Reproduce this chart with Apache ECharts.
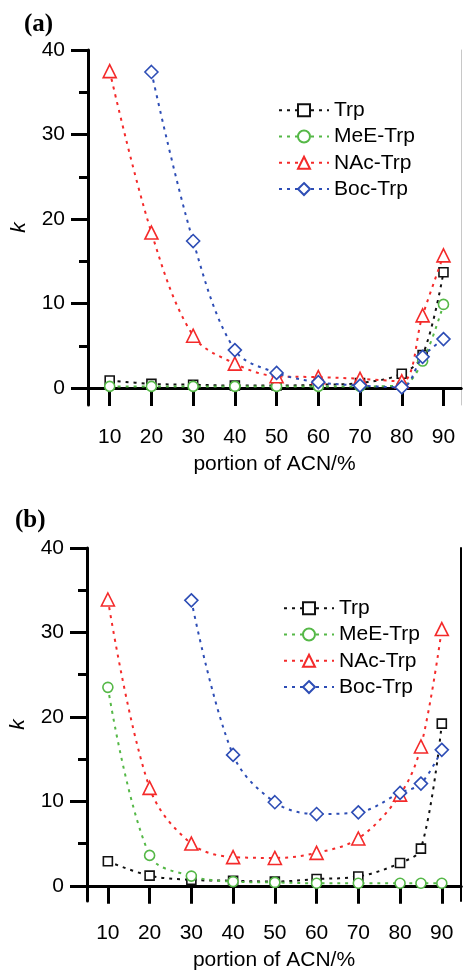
<!DOCTYPE html>
<html>
<head>
<meta charset="utf-8">
<script src="https://cdn.jsdelivr.net/npm/echarts@6/dist/echarts.min.js"></script>
<style>html,body{margin:0;padding:0;background:#fff;}#c{width:463px;height:972px;}</style>
</head>
<body>
<div id="c"></div>
<script>
// ---- data ----
const xs = [10, 20, 30, 40, 50, 60, 70, 80, 85, 90];
const xTicks = [10, 20, 30, 40, 50, 60, 70, 80, 90];
const yTicks = [0, 10, 20, 30, 40];
const yMinorTicks = [5, 15, 25, 35];
const seriesNames = ['Trp', 'MeE-Trp', 'NAc-Trp', 'Boc-Trp'];

// panel (a)
const trpA = [0.9, 0.5, 0.4, 0.3, 0.3, 0.4, 0.6, 1.7, 3.9, 13.7];
const meeA = [0.2, 0.2, 0.2, 0.2, 0.2, 0.2, 0.2, 0.3, 3.2, 9.9];
const nacA = [37.5, 18.4, 6.2, 2.9, 1.4, 1.3, 1.1, 0.8, 8.6, 15.7];
const bocA = [null, 37.4, 17.4, 4.5, 1.8, 0.7, 0.3, 0.1, 3.7, 5.8];

// panel (b)
const trpB = [2.9, 1.2, 0.7, 0.6, 0.5, 0.8, 1.1, 2.7, 4.4, 19.2];
const meeB = [23.5, 3.6, 1.15, 0.5, 0.4, 0.3, 0.3, 0.3, 0.3, 0.3];
const nacB = [33.9, 11.6, 5.0, 3.4, 3.3, 3.9, 5.6, 10.8, 16.5, 30.4];
const bocB = [null, null, 33.8, 15.5, 9.9, 8.5, 8.7, 11.0, 12.1, 16.1];

// ---- styles ----
const colors = ['#111111', '#55b847', '#f42a2a', '#2d4db5'];
const symbols = ['rect', 'circle', 'triangle', 'diamond'];
const symSizes = [9, 10, 13, 13];
const FONT = "'Liberation Sans', Arial, sans-serif";
const FS = 21;

function mkSeries(arr, idx, gi) {
  return {
    type: 'line',
    name: seriesNames[idx],
    xAxisIndex: gi * 2,
    yAxisIndex: gi * 3,
    data: xs.map((x, i) => [x, arr[i] === null ? '-' : arr[i]]),
    smooth: 0.35,
    symbol: symbols[idx],
    symbolSize: symSizes[idx],
    showSymbol: true,
    connectNulls: false,
    itemStyle: { color: '#ffffff', borderColor: colors[idx], borderWidth: 1.6 },
    lineStyle: { color: colors[idx], width: 2, type: [3, 5] },
    emphasis: { disabled: true },
    z: 3 + idx
  };
}

const grids = [
  { left: 88, top: 50, right: 2, height: 355 },
  { left: 86, top: 548, right: 2, height: 353 }
];
const xRanges = [[4.8, 94.2], [5.0, 94.6]];
const yRanges = [[-2, 40], [-1.8, 40]];
const rightLine = [{ color: '#c8c8c8', width: 1 }, { color: '#000', width: 2 }];

const xAxes = [], yAxes = [];
grids.forEach((g, gi) => {
  xAxes.push({
    type: 'value', gridIndex: gi, position: 'bottom',
    min: xRanges[gi][0], max: xRanges[gi][1],
    axisLine: { show: true, lineStyle: { color: '#000', width: 3 } },
    axisTick: { show: true, customValues: xTicks, length: 18, inside: false, lineStyle: { color: '#000', width: 3 } },
    axisLabel: { show: true, customValues: xTicks, margin: 22, fontSize: FS, color: '#000', fontFamily: FONT },
    splitLine: { show: false },
    name: 'portion of ACN/%', nameLocation: 'middle', nameGap: 49,
    nameTextStyle: { fontSize: FS, color: '#000', fontFamily: FONT }
  });
  xAxes.push({
    type: 'value', gridIndex: gi, position: 'top',
    min: xRanges[gi][0], max: xRanges[gi][1],
    axisLine: { show: true, lineStyle: { color: '#000', width: 3 } },
    axisTick: { show: false }, axisLabel: { show: false }, splitLine: { show: false }
  });
  yAxes.push({
    type: 'value', gridIndex: gi, position: 'left',
    min: yRanges[gi][0], max: yRanges[gi][1],
    axisLine: { show: true, lineStyle: { color: '#000', width: 3 } },
    axisTick: { show: true, customValues: yTicks, length: 17, lineStyle: { color: '#000', width: 3 } },
    axisLabel: { show: true, customValues: yTicks, margin: 23, fontSize: FS, color: '#000', fontFamily: FONT },
    splitLine: { show: false },
    name: 'k', nameLocation: 'middle', nameGap: 58, nameRotate: 90,
    nameTextStyle: { fontSize: FS, fontStyle: 'italic', color: '#000', fontFamily: FONT }
  });
  yAxes.push({
    type: 'value', gridIndex: gi, position: 'left',
    min: yRanges[gi][0], max: yRanges[gi][1],
    axisLine: { show: false },
    axisTick: { show: true, customValues: yMinorTicks, length: 9, lineStyle: { color: '#000', width: 3 } },
    axisLabel: { show: false }, splitLine: { show: false }
  });
  yAxes.push({
    type: 'value', gridIndex: gi, position: 'right',
    min: yRanges[gi][0], max: yRanges[gi][1],
    axisLine: { show: true, lineStyle: rightLine[gi] },
    axisTick: { show: false }, axisLabel: { show: false }, splitLine: { show: false }
  });
});

const series = [
  mkSeries(trpA, 0, 0), mkSeries(meeA, 1, 0), mkSeries(nacA, 2, 0), mkSeries(bocA, 3, 0),
  mkSeries(trpB, 0, 1), mkSeries(meeB, 1, 1), mkSeries(nacB, 2, 1), mkSeries(bocB, 3, 1)
];

function mkLegend(left, top) {
  return {
    orient: 'vertical', left: left, top: top, padding: 0,
    itemWidth: 50, itemHeight: 15, itemGap: 0,
    selectedMode: false,
    data: seriesNames,
    textStyle: { fontSize: FS, lineHeight: 26.3, color: '#000', fontFamily: FONT, padding: [0, 0, 0, 0] }
  };
}

const option = {
  animation: false,
  backgroundColor: '#fff',
  grid: grids,
  xAxis: xAxes,
  yAxis: yAxes,
  legend: [mkLegend(278, 97), mkLegend(283, 595)],
  series: series,
  graphic: [
    { type: 'text', left: 24, top: 12, style: { text: '(a)', fontSize: 25, fontWeight: 'bold', fontFamily: "'Liberation Serif', 'Times New Roman', serif", fill: '#000' } },
    { type: 'text', left: 15, top: 508, style: { text: '(b)', fontSize: 25, fontWeight: 'bold', fontFamily: "'Liberation Serif', 'Times New Roman', serif", fill: '#000' } }
  ]
};

const chart = echarts.init(document.getElementById('c'), null, { renderer: 'canvas' });
chart.setOption(option);
</script>
</body>
</html>
